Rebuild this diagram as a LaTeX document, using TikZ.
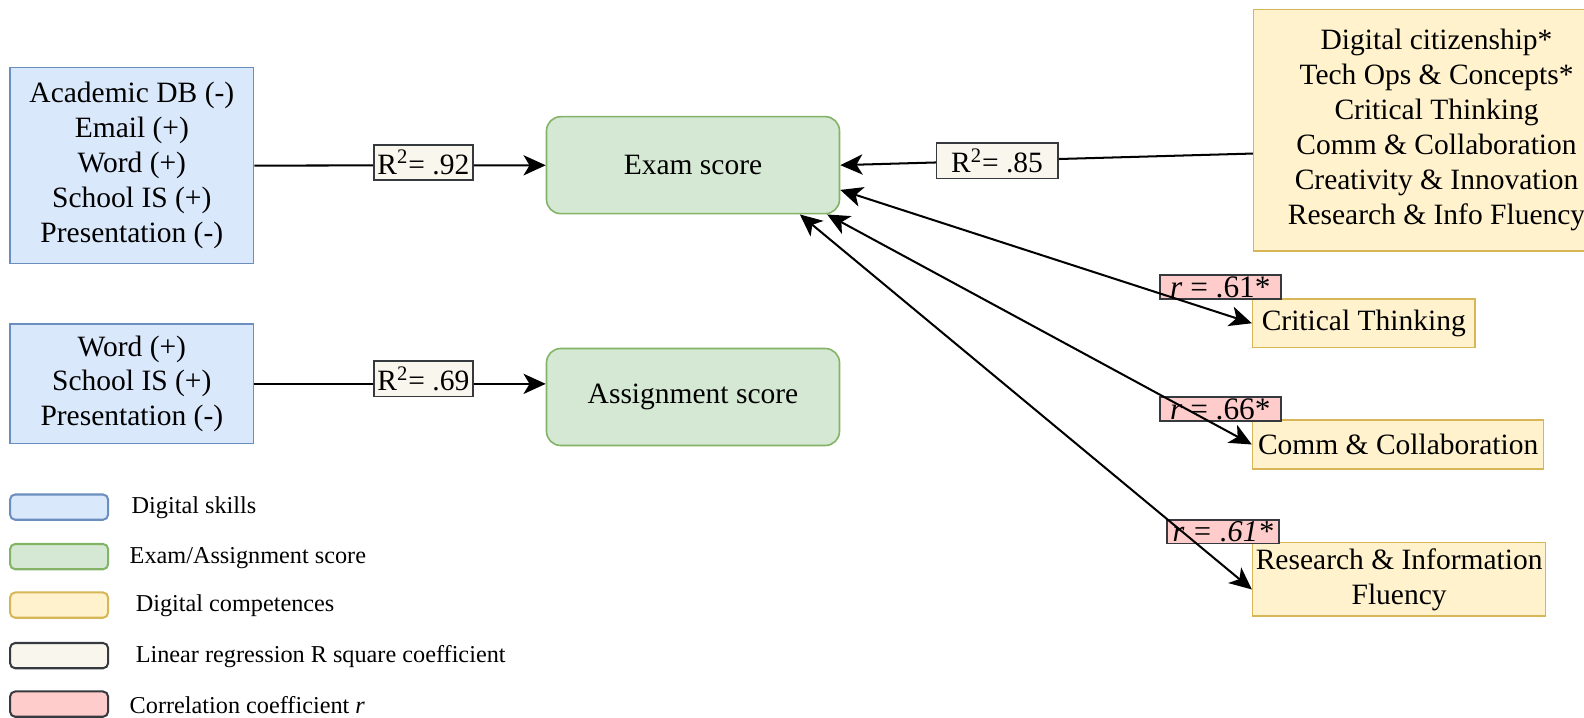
\documentclass[tikz,border=0pt]{standalone}
\usepackage{fontspec}
\setmainfont{Liberation Serif}
\usetikzlibrary{arrows.meta}

\definecolor{skillfill}{HTML}{DAE8FC}
\definecolor{skilldraw}{HTML}{6C8EBF}
\definecolor{scorefill}{HTML}{D5E8D4}
\definecolor{scoredraw}{HTML}{82B366}
\definecolor{compfill}{HTML}{FFF2CC}
\definecolor{compdraw}{HTML}{D6B656}
\definecolor{rsqfill}{HTML}{F9F7ED}
\definecolor{corrfill}{HTML}{FFCCCC}
\definecolor{lbldraw}{HTML}{36393D}

\begin{document}
\begin{tikzpicture}[x=0.5pt,y=-0.5pt,
	box/.style={draw, line width=0.8pt, align=center, inner sep=0pt, font=\fontsize{14.6}{17.3}\selectfont},
	skill/.style={box, draw=skilldraw, fill=skillfill, minimum width=120.5pt},
	score/.style={box, draw=scoredraw, fill=scorefill, rounded corners=7pt, minimum width=145pt, minimum height=48pt},
	comp/.style={box, draw=compdraw, fill=compfill},
	rsq/.style={box, draw=lbldraw, fill=rsqfill, minimum width=49pt, minimum height=17.5pt},
	corr/.style={box, draw=lbldraw, fill=corrfill, minimum width=60pt, minimum height=12pt, font=\fontsize{15.5}{15.5}\selectfont},
	tip/.tip={Stealth[length=11pt,width=10pt,inset=3pt]},
	link/.style={line width=1pt, -tip},
	twoway/.style={line width=1pt, tip-tip},
	key/.style={draw, line width=1pt, rounded corners=2.5pt, minimum width=48.5pt, minimum height=12.5pt},
	keytext/.style={anchor=west, inner sep=0pt, font=\fontsize{12}{14}\selectfont}
	]
	\useasboundingbox (0,0) rectangle (1568,710);

	% digital skills
	\node[skill, minimum height=97pt] (skillsA) at (130.5,164)
		{Academic DB (-)\\Email (+)\\Word (+)\\School IS (+)\\Presentation (-)};
	\node[skill, minimum height=59pt] (skillsB) at (130.5,380)
		{Word (+)\\School IS (+)\\Presentation (-)};

	% scores
	\node[score] (exam) at (686,163.5) {Exam score};
	\node[score] (assign) at (686,393) {Assignment score};

	% digital competences
	\node[comp, minimum width=181pt, minimum height=119.5pt] (allcomp) at (1422,129)
		{Digital citizenship*\\Tech Ops \& Concepts*\\Critical Thinking\\Comm \& Collaboration\\Creativity \& Innovation\\Research \& Info Fluency};
	\node[comp, minimum width=110pt, minimum height=24pt] (crit) at (1350,320) {Critical Thinking};
	\node[comp, minimum width=144pt, minimum height=24pt] (comm) at (1384,440) {Comm \& Collaboration};
	\node[comp, minimum width=145pt, minimum height=36.5pt] (research) at (1385,573.5)
		{Research \& Information\\Fluency};

	% correlations
	\node[corr] (corrA) at (1208,284) {\textit{r} = .61*};
	\node[corr] (corrB) at (1208,405) {\textit{r} = .66*};
	\node[corr, minimum width=55.5pt, minimum height=11.5pt, font=\fontsize{15}{15}\selectfont] (corrC) at (1210.5,526.5) {\textit{r = .61*}};

	% regressions
	\draw[link] (skillsA) -- node[rsq, pos=0.58, yshift=1.5pt] (rsqA) {R\textsuperscript{2}= .92} (exam);
	\draw[link] (skillsB.east) -- node[rsq, pos=0.58, yshift=2.5pt] (rsqB) {R\textsuperscript{2}= .69} (skillsB.east -| assign.west);
	\draw[link] ([yshift=-11.5pt]allcomp.west) -- node[rsq, pos=0.62, minimum width=60pt] (rsqC) {R\textsuperscript{2}= .85} (exam.east);

	\draw[twoway] ([yshift=-12.25pt]exam.east) -- (crit.west);
	\draw[twoway] ([xshift=-6.5pt]exam.south east) -- (comm.west);
	\draw[twoway] ([xshift=-20pt]exam.south east) -- ([yshift=-5pt]research.west);

	% legend
	\foreach \y/\fc/\dc/\tx/\txt in {502/skillfill/skilldraw/130/{Digital skills},
		551/scorefill/scoredraw/128/{Exam/Assignment score},
		599/compfill/compdraw/134/{Digital competences},
		649/rsqfill/lbldraw/134/{Linear regression R square coefficient},
		697/corrfill/lbldraw/128/{Correlation coefficient \textit{r}}} {
		\node[key, fill=\fc, draw=\dc] (key\y) at (58.5,\y) {};
		\node[keytext] (keytext\y) at (\tx,\y+1) {\txt};
	}
\end{tikzpicture}
\end{document}
